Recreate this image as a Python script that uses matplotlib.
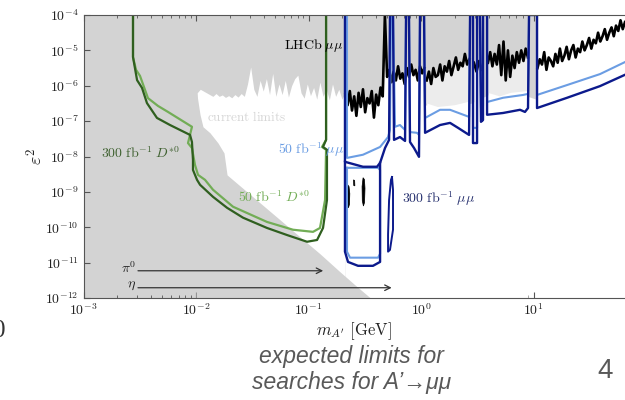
import numpy as np
import matplotlib
matplotlib.use("Agg")
import matplotlib.pyplot as plt
from matplotlib.ticker import FuncFormatter, LogLocator, NullLocator

plt.rcParams['mathtext.fontset'] = 'cm'

# ---- data: log10(m / GeV) and log10(eps^2) ----

# upper edge of the white "current limits" hole (prompt searches)
prompt_logm = np.linspace(-1.99, -0.675, 48)
prompt_loge = [-6.20, -6.10, -6.15, -6.20, -6.25, -6.30, -6.22, -6.30, -6.26, -6.33,
               -6.28, -6.34, -6.25, -6.32, -6.22, -6.30, -5.95, -5.47, -6.10, -6.30,
               -5.85, -6.15, -5.80, -6.25, -5.65, -6.30, -5.95, -6.25, -5.85, -6.32,
               -6.00, -5.80, -5.70, -6.20, -6.35, -5.95, -6.28, -6.05, -6.38, -5.90,
               -6.30, -6.10, -6.40, -5.95, -6.30, -6.10, -6.38, -6.20]

# beam-dump excluded region (grey, lower left)
bd_logm = [-2.0, -1.991, -1.964, -1.938, -1.876, -1.804, -1.751, -1.724, -1.609, -1.431,
           -1.253, -1.076, -0.898, -0.720, -0.587, -0.453, -0.40]
bd_loge = [-6.10, -6.26, -6.82, -7.16, -7.33, -7.62, -7.90, -8.52, -8.83, -9.31,
           -9.79, -10.27, -10.75, -11.26, -11.63, -11.99, -12.2]

# older limits lower envelope above 2 m_mu
base_logm = [-0.676, -0.3, 0.0, 0.44, 0.6, 0.95, 1.04, 1.813]
base_loge = [-6.7, -6.6, -6.55, -6.5, -6.25, -6.3, -6.4, -6.0]

# LHCb mu mu limit, split at the resonance vetoes
lhcb_ab_logm = np.linspace(-0.672, 0.03, 37)
lhcb_ab = [-6.25, -6.55, -6.15, -6.70, -6.30, -6.85, -6.20, -6.60, -6.10, -6.75,
           -6.35, -6.50, -6.15, -6.90, -6.25, -6.55, -6.05, -6.30, -4.00,
           -5.75, -5.55, -5.90, -5.60, -5.85, -5.45, -5.80, -5.65, -5.95, -5.50,
           -5.75, -5.40, -5.70, -5.55, -5.85, -5.45, -5.65, -5.50]
lhcb_c_logm = np.linspace(0.05, 0.43, 20)
lhcb_c = [-5.85, -5.60, -5.95, -5.50, -5.75, -5.70, -5.40, -5.85, -5.45, -5.60,
          -5.30, -5.70, -5.45, -5.20, -5.55, -5.35, -5.45, -5.10, -5.40, -5.25]
lhcb_d_logm = np.linspace(0.47, 0.54, 4)
lhcb_d = [-5.35, -5.60, -5.30, -5.55]
lhcb_e_logm = np.linspace(0.595, 0.95, 19)
lhcb_e = [-5.35, -5.05, -5.45, -5.10, -5.40, -4.85, -5.70, -4.75, -5.85, -5.00,
          -5.75, -5.15, -5.50, -5.05, -5.35, -5.00, -5.30, -4.95, -5.20]
lhcb_f_logm = np.linspace(1.035, 1.813, 40)
lhcb_f = [-5.50, -5.25, -5.40, -5.05, -5.55, -5.20, -5.30, -5.45, -5.10, -5.35,
          -4.95, -5.30, -5.15, -4.90, -5.25, -5.00, -4.85, -5.20, -4.95, -5.05,
          -4.75, -5.00, -4.85, -4.65, -4.95, -4.70, -4.80, -4.50, -4.75, -4.60,
          -4.40, -4.70, -4.50, -4.35, -4.60, -4.30, -4.45, -4.15, -4.40, -4.20]

# lighter grey band under the LHCb line
streak_c_logm = [0.43, 0.30, 0.15, 0.05]
streak_c_loge = [-6.45, -6.55, -6.60, -6.50]
streak_e_logm = [0.95, 0.80, 0.70, 0.595]
streak_e_loge = [-6.15, -6.20, -6.30, -6.20]

# black islands at low mass
blob_a_logm = [-0.652, -0.640, -0.633, -0.636, -0.645, -0.655, -0.658]
blob_a_loge = [-8.80, -8.85, -9.05, -9.35, -9.45, -9.30, -9.00]
blob_b_logm = [-0.515, -0.503, -0.498, -0.502, -0.512, -0.522, -0.524]
blob_b_loge = [-8.60, -8.65, -8.90, -9.30, -9.40, -9.25, -8.85]
blob_c_logm = [-0.600, -0.590, -0.588, -0.598]
blob_c_loge = [-8.66, -8.68, -8.83, -8.82]

# expected mu mu reach, 300 fb^-1 (dark) and 50 fb^-1 (light)
dark_mu_logm = [-0.676, -0.676, -0.516, -0.391, -0.364, -0.320, -0.284, -0.276, -0.249,
                -0.240, -0.187, -0.142, -0.133, -0.107, -0.098, -0.062, -0.018, -0.009,
                0.027, 0.036, 0.169, 0.258, 0.329, 0.427, 0.436, 0.462, 0.462, 0.498,
                0.498, 0.524, 0.533, 0.551, 0.551, 0.587, 0.587, 0.729, 0.880, 0.924,
                0.951, 0.960, 1.031, 1.031, 1.298, 1.591, 1.813]
dark_mu_loge = [-4.00, -8.15, -8.29, -8.29, -8.18, -7.76, -7.53, -4.00, -4.00,
                -7.53, -7.45, -7.56, -4.00, -4.00, -7.59, -7.76, -8.01, -4.00,
                -4.00, -7.33, -7.11, -7.05, -7.19, -7.39, -4.00, -4.00, -7.62, -7.62,
                -4.00, -4.00, -7.02, -6.97, -4.00, -4.00, -6.82, -6.77, -6.68, -6.74,
                -6.63, -4.00, -4.00, -6.63, -6.34, -6.01, -5.69]
dark_box_logm = [-0.676, -0.676, -0.649, -0.560, -0.427, -0.364, -0.364]
dark_box_loge = [-8.15, -10.69, -10.98, -11.09, -11.09, -10.98, -8.18]
island_logm = [-0.258, -0.249, -0.249, -0.276, -0.293, -0.293, -0.284, -0.267, -0.258]
island_loge = [-8.58, -8.94, -10.07, -10.64, -10.69, -10.21, -9.23, -8.66, -8.58]

light_mu_logm = [-0.658, -0.658, -0.516, -0.364, -0.293, -0.276, -0.267, -0.249, -0.231,
                 -0.187, -0.142, -0.133, -0.107, -0.098, -0.036, -0.018, -0.009, 0.027,
                 0.036, 0.169, 0.258, 0.427, 0.436, 0.462, 0.462, 0.498, 0.498, 0.524,
                 0.533, 0.551, 0.551, 0.587, 0.587, 0.729, 0.907, 0.951, 0.960, 1.031,
                 1.031, 1.298, 1.591, 1.813]
light_mu_loge = [-4.00, -8.04, -7.95, -7.73, -7.45, -7.25, -4.00, -4.00, -7.16,
                 -7.11, -7.25, -4.00, -4.00, -7.31, -7.33, -7.39, -4.00, -4.00,
                 -6.91, -6.68, -6.68, -6.88, -4.00, -4.00, -7.19, -7.19, -4.00, -4.00,
                 -6.63, -6.57, -4.00, -4.00, -6.46, -6.34, -6.26, -6.23, -4.00, -4.00,
                 -6.26, -5.98, -5.67, -5.33]
light_box_logm = [-0.658, -0.658, -0.631, -0.382, -0.364, -0.364, -0.382, -0.658]
light_box_loge = [-8.32, -10.69, -10.86, -10.86, -10.75, -8.38, -8.32, -8.32]

# expected D*0 reach
dark_d_logm = [-2.560, -2.560, -2.524, -2.480, -2.436, -2.347, -2.231, -2.053, -2.036,
               -2.027, -2.027, -1.991, -1.964, -1.849, -1.724, -1.582, -1.369, -1.191,
               -1.013, -0.924, -0.871, -0.836, -0.836, -0.871, -0.844, -0.844]
dark_d_loge = [-4.00, -5.19, -5.84, -6.06, -6.49, -6.91, -7.11, -7.39, -7.59,
               -8.10, -8.38, -8.66, -8.80, -9.14, -9.45, -9.73, -10.02, -10.22,
               -10.41, -10.36, -10.02, -9.23, -7.81, -7.73, -7.53, -4.00]
light_d_logm = [-2.560, -2.560, -2.533, -2.498, -2.427, -2.338, -2.249, -2.036, -2.071,
                -2.036, -2.009, -1.982, -1.920, -1.849, -1.671, -1.369, -1.138, -0.960,
                -0.898, -0.853, -0.844, -0.880, -0.844, -0.844]
light_d_loge = [-4.00, -5.19, -5.55, -5.72, -6.35, -6.57, -6.74, -7.16, -7.62,
                -7.76, -8.24, -8.52, -8.66, -8.94, -9.42, -9.85, -10.07, -10.13,
                -10.02, -9.23, -7.81, -7.73, -7.53, -4.00]

# meson mass arrows
meson_names = [r'$\pi^0$', r'$\eta$']
meson_masses = [0.135, 0.548]
arrow_start = 3.05e-3
arrow_loge = [-11.23, -11.71]

GRAY = '#d3d3d3'
DARK_BLUE = '#0c1a8c'
LIGHT_BLUE = '#6b9de3'
DARK_GREEN = '#2f5f1f'
LIGHT_GREEN = '#72ad56'


def p(a):
    return 10.0 ** np.asarray(a, dtype=float)


fig = plt.figure(figsize=(6.25, 4.0), dpi=100)
ax = fig.add_axes([83.5 / 625, 102 / 400, 1 - 83.5 / 625, 283 / 400])
ax.set_xscale('log')
ax.set_yscale('log')
ax.set_facecolor(GRAY)

# white (allowed) regions
ax.fill_between(p(prompt_logm), 1e-13, p(prompt_loge), color='white', lw=0, zorder=1)
ax.fill_between(p(base_logm), 1e-13, p(base_loge), color='white', lw=0, zorder=1)
lhcb_segments = [(lhcb_ab_logm, lhcb_ab), (lhcb_c_logm, lhcb_c), (lhcb_d_logm, lhcb_d),
                 (lhcb_e_logm, lhcb_e), (lhcb_f_logm, lhcb_f)]
for lm, le in lhcb_segments:
    ax.fill_between(p(lm), 1e-13, p(le), color='white', lw=0, zorder=2)
ax.fill_between(p(lhcb_f_logm), p(lhcb_f), 1e-3, color='white', lw=0, zorder=2)

# beam dump grey
ax.fill_between(p(bd_logm), 1e-13, p(bd_loge), color=GRAY, lw=0, zorder=3)

# light streaks under LHCb line
for lm, le, sm, se in [(lhcb_c_logm, lhcb_c, streak_c_logm, streak_c_loge),
                       (lhcb_e_logm, lhcb_e, streak_e_logm, streak_e_loge)]:
    ax.fill(p(np.r_[lm, sm]), p(np.r_[le, se]), color='#ececec', lw=0, zorder=4)

for lm, le in lhcb_segments:
    ax.plot(p(lm), p(le), color='black', lw=1.9, zorder=5)
for bm, be in [(blob_a_logm, blob_a_loge), (blob_b_logm, blob_b_loge), (blob_c_logm, blob_c_loge)]:
    ax.fill(p(bm), p(be), color='black', lw=0.5, zorder=5)

# expected reach curves
ax.plot(p(light_mu_logm), p(light_mu_loge), color=LIGHT_BLUE, lw=1.5, zorder=6)
ax.plot(p(light_box_logm), p(light_box_loge), color=LIGHT_BLUE, lw=1.5, zorder=6)
ax.plot(p(dark_mu_logm), p(dark_mu_loge), color=DARK_BLUE, lw=1.7, zorder=7)
ax.plot(p(dark_box_logm), p(dark_box_loge), color=DARK_BLUE, lw=1.7, zorder=7)
ax.plot(p(island_logm), p(island_loge), color=DARK_BLUE, lw=1.4, zorder=7)
ax.plot(p(light_d_logm), p(light_d_loge), color=LIGHT_GREEN, lw=1.6, zorder=6)
ax.plot(p(dark_d_logm), p(dark_d_loge), color=DARK_GREEN, lw=1.6, zorder=7)

# meson arrows
for name, mass, h in zip(meson_names, meson_masses, arrow_loge):
    ax.annotate('', xy=(mass, 10 ** h), xytext=(arrow_start, 10 ** h),
                arrowprops=dict(arrowstyle='->', color='#333333', lw=0.9,
                                shrinkA=0, shrinkB=0), zorder=8)
    ax.text(10 ** -2.535, 10 ** (h + 0.08), name, ha='right', va='center',
            fontsize=10, color='#222222', zorder=8)

# curve labels
ax.text(10 ** -0.951, 10 ** -4.85, r'$\mathrm{LHCb}\ \mu\mu$', ha='center', va='center',
        fontsize=10, color='black', zorder=8)
ax.text(10 ** -1.547, 10 ** -6.88, r'$\mathrm{current\ limits}$', ha='center', va='center',
        fontsize=9.5, color='#d6d6d6', zorder=8)
ax.text(10 ** -0.978, 10 ** -7.81, r'$50\ \mathrm{fb}^{-1}\ \mu\mu$', ha='center', va='center',
        fontsize=10, color=LIGHT_BLUE, zorder=8)
ax.text(10 ** -2.489, 10 ** -7.90, r'$300\ \mathrm{fb}^{-1}\ D^{*0}$', ha='center', va='center',
        fontsize=10, color='#3f6130', zorder=8)
ax.text(10 ** -1.306, 10 ** -9.14, r'$50\ \mathrm{fb}^{-1}\ D^{*0}$', ha='center', va='center',
        fontsize=10, color=LIGHT_GREEN, zorder=8)
ax.text(10 ** 0.160, 10 ** -9.20, r'$300\ \mathrm{fb}^{-1}\ \mu\mu$', ha='center', va='center',
        fontsize=10, color='#26306e', zorder=8)

# axes
ax.set_xlim(1e-3, 10 ** 1.813)
ax.set_ylim(1e-12, 1e-4)
ax.set_xticks([1e-3, 1e-2, 1e-1, 1, 10])
ax.set_yticks([10.0 ** k for k in range(-12, -3)])
ax.xaxis.set_minor_locator(LogLocator(base=10, subs=np.arange(2, 10), numticks=20))
ax.yaxis.set_minor_locator(NullLocator())
fmt = FuncFormatter(lambda v, pos: r'$10^{%d}$' % int(round(np.log10(v))))
ax.xaxis.set_major_formatter(fmt)
ax.yaxis.set_major_formatter(fmt)
ax.tick_params(axis='both', which='both', direction='in', top=True, right=False,
               labelsize=10, labelcolor='#222222', color='#555555')
ax.tick_params(which='major', length=4)
ax.tick_params(which='minor', length=2)
ax.spines['right'].set_visible(False)
for s in ['left', 'bottom', 'top']:
    ax.spines[s].set_color('#555555')
    ax.spines[s].set_linewidth(0.8)
    ax.spines[s].set_zorder(9)

ax.set_xlabel(r'$m_{A^{\prime}}\ [\mathrm{GeV}]$', fontsize=12, color='#222222', labelpad=1)
ax.set_ylabel(r'$\varepsilon^2$', fontsize=13, color='#222222')
ax.yaxis.set_label_coords(-0.069, 0.5)

# slide texts
sans = ['Liberation Sans', 'DejaVu Sans']
fig.text(0.563, 0.1075, 'expected limits for', ha='center', va='center', fontsize=16.5,
         style='italic', color='#595959', family=sans)
fig.text(0.563, 0.045, 'searches for A\u2019\u2192\u03bc\u03bc', ha='center', va='center',
         fontsize=16.5, style='italic', color='#595959', family=sans)
fig.text(0.968, 0.0725, '4', ha='center', va='center', fontsize=20, color='#595959', family=sans)
fig.text(-0.011, 0.1725, '0', ha='left', va='center', fontsize=18, color='#333333',
         family=['Liberation Serif', 'DejaVu Serif'])

fig.savefig('out.png', dpi=100)
